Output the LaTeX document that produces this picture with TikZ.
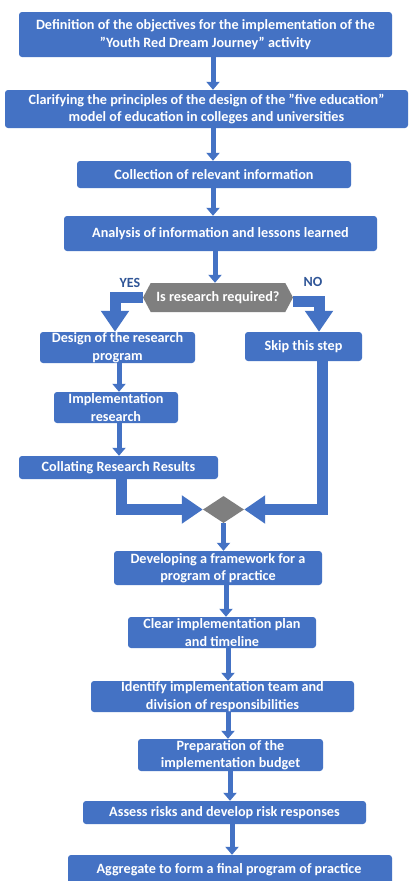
\documentclass[tikz,border=0pt]{standalone}
\usepackage{fontspec}
\defaultfontfeatures{}
\setmainfont{Carlito}
\usetikzlibrary{arrows.meta,shapes.symbols,shapes.geometric}
\definecolor{boxblue}{HTML}{4472C4}
\definecolor{hexgray}{HTML}{7F7F7F}
\definecolor{lbl}{HTML}{2F5597}
\tikzset{
  box/.style={fill=boxblue, draw=none, rounded corners=3pt, inner sep=0pt},
  txt/.style={text=white, font=\bfseries\fontsize{14.2}{17.5}\selectfont, align=center, inner sep=0pt},
  arr/.style={boxblue, line width=5pt, -{Triangle[width=13pt,length=8pt]}},
  bigarr/.style={boxblue, line width=11pt, miter limit=10, line join=miter, -{Triangle[width=27pt,length=21pt]}},
  yn/.style={text=lbl, font=\bfseries\fontsize{14}{16}\selectfont, inner sep=0pt},
}
\begin{document}
\begin{tikzpicture}[x=1pt,y=-1pt]
\useasboundingbox (0,0) rectangle (415,881);
\clip (0,0) rectangle (415,881);
\fill[white] (0,0) rectangle (415,881);

\node[box, minimum width=373pt, minimum height=45pt] (b1) at (205.5,34.5) {};
\node[txt] (t1) at (b1.center) {Definition of the objectives for the implementation of the\\"Youth Red Dream Journey" activity};
\node[box, minimum width=403pt, minimum height=38pt] (b2) at (206.5,109) {};
\node[txt] (t2) at (b2.center) {Clarifying the principles of the design of the "five education"\\model of education in colleges and universities};
\node[box, minimum width=274pt, minimum height=27pt] (b3) at (214,174.5) {};
\node[txt] (t3) at (b3.center) {Collection of relevant information};
\node[box, minimum width=313pt, minimum height=35pt] (b4) at (220.5,233.5) {};
\node[txt] (t4) at (b4.center) {Analysis of information and lessons learned};

\node[signal, signal to=west and east, signal pointer angle=124, fill=hexgray, minimum width=150pt, minimum height=29pt, inner sep=0pt] (hex) at (218,297.5) {};
\node[txt] (th) at (hex.center) {Is research required?};

\node[box, minimum width=155pt, minimum height=31pt] (des) at (117.5,347.5) {};
\node[txt] (td) at (des.center) {Design of the research\\program};
\node[box, minimum width=117pt, minimum height=29pt] (skip) at (303.5,346.5) {};
\node[txt] (ts) at (skip.center) {Skip this step};
\node[box, minimum width=124pt, minimum height=31pt] (impl) at (116,407.5) {};
\node[txt] (ti) at (impl.center) {Implementation\\research};
\node[box, minimum width=199pt, minimum height=23pt] (coll) at (118.5,467.5) {};
\node[txt] (tc) at (coll.center) {Collating Research Results};

\node[diamond, fill=hexgray, minimum width=41pt, minimum height=27pt, inner sep=0pt] (dia) at (223.5,509.5) {};

\node[box, minimum width=208pt, minimum height=34pt] (b8) at (218,568) {};
\node[txt] (t8) at (b8.center) {Developing a framework for a\\program of practice};
\node[box, minimum width=188pt, minimum height=31pt] (b9) at (222,632.5) {};
\node[txt] (t9) at (b9.center) {Clear implementation plan\\and timeline};
\node[box, minimum width=263pt, minimum height=31pt] (b10) at (222.5,696.5) {};
\node[txt] (t10) at (b10.center) {Identify implementation team and\\division of responsibilities};
\node[box, minimum width=185pt, minimum height=32pt] (b11) at (230.5,755) {};
\node[txt] (t11) at (b11.center) {Preparation of the\\implementation budget};
\node[box, minimum width=283pt, minimum height=23pt] (b12) at (224.5,812.5) {};
\node[txt] (t12) at (b12.center) {Assess risks and develop risk responses};
\node[box, minimum width=324pt, minimum height=34pt] (b13) at (230,872) {};
\node[txt] (t13) at (229,870) {Aggregate to form a final program of practice};

\node[yn] (yes) at (130,283) {YES};
\node[yn] (no) at (313,282) {NO};

% arrow columns
\coordinate (c1) at (213,0);
\coordinate (c2) at (215,0);
\coordinate (c3) at (226,0);
\coordinate (c4) at (228,0);
\coordinate (c5) at (230,0);
\coordinate (c6) at (232,0);
\coordinate (cl) at (115,0);
\coordinate (cr) at (319,0);
\coordinate (cs) at (121,0);
\coordinate (ct) at (322,0);
\coordinate (ci) at (119,0);

\draw[arr] (b1.south -| c1) -- (b2.north -| c1);
\draw[arr] (b2.south -| c1) -- (b3.north -| c1);
\draw[arr] (b3.south -| c1) -- (b4.north -| c1);
\draw[arr] (b4.south -| c2) -- (hex.north -| c2);

\draw[bigarr] (hex.west) -| (des.north -| cl);
\draw[bigarr] ([yshift=-4pt]hex.east) -| (skip.north -| cr);

\draw[arr] (des.south -| ci) -- (impl.north -| ci);
\draw[arr] (impl.south -| ci) -- (coll.north -| ci);

\draw[bigarr] (coll.south -| cs) |- (dia.west);
\draw[bigarr] (skip.south -| ct) |- (dia.east);

\draw[arr] (dia.south) -- (b8.north -| dia.south);
\draw[arr] (b8.south -| c3) -- (b9.north -| c3);
\draw[arr] (b9.south -| c4) -- (b10.north -| c4);
\draw[arr] (b10.south -| c4) -- (b11.north -| c4);
\draw[arr] (b11.south -| c5) -- (b12.north -| c5);
\draw[arr] (b12.south -| c6) -- (b13.north -| c6);
\end{tikzpicture}
\end{document}
